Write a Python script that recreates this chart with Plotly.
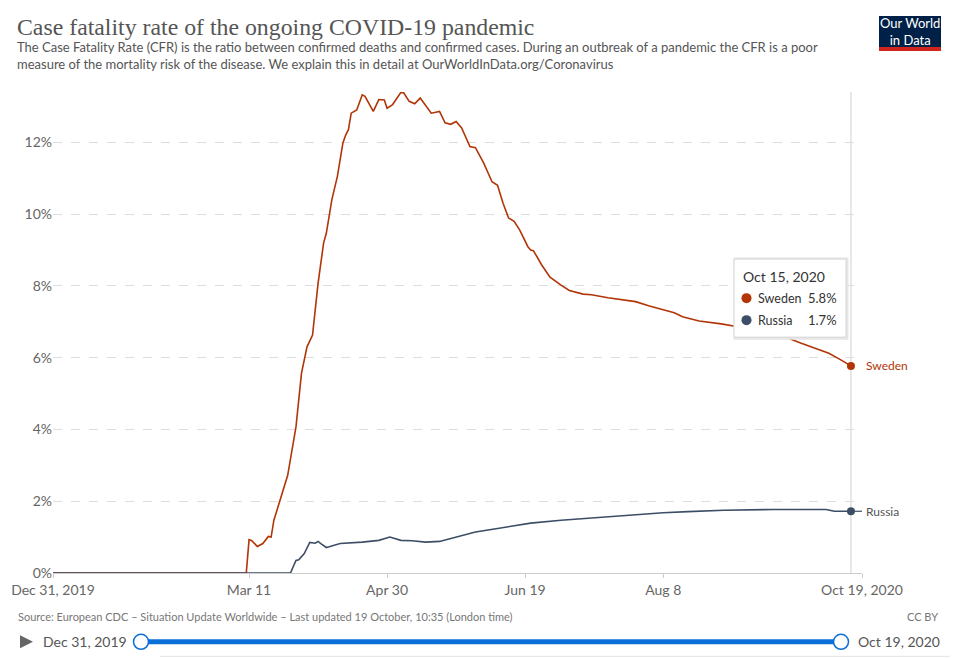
import plotly.graph_objects as go

# Case fatality rate (%)
sweden_dates = ["2019-12-31", "2020-03-10", "2020-03-11", "2020-03-12", "2020-03-14", "2020-03-16",
                "2020-03-18", "2020-03-19", "2020-03-20", "2020-03-23", "2020-03-25", "2020-03-28",
                "2020-03-30", "2020-04-01", "2020-04-03", "2020-04-05", "2020-04-07", "2020-04-08",
                "2020-04-10", "2020-04-12", "2020-04-14", "2020-04-15", "2020-04-16", "2020-04-17",
                "2020-04-19", "2020-04-21", "2020-04-22", "2020-04-25", "2020-04-27", "2020-04-29",
                "2020-04-30", "2020-05-02", "2020-05-05", "2020-05-06", "2020-05-08", "2020-05-10",
                "2020-05-12", "2020-05-16", "2020-05-19", "2020-05-21", "2020-05-23", "2020-05-25",
                "2020-05-27", "2020-05-30", "2020-06-01", "2020-06-04", "2020-06-07", "2020-06-09",
                "2020-06-11", "2020-06-13", "2020-06-15", "2020-06-17", "2020-06-20", "2020-06-21",
                "2020-06-22", "2020-06-25", "2020-06-28", "2020-07-02", "2020-07-05", "2020-07-10",
                "2020-07-13", "2020-07-19", "2020-07-23", "2020-07-29", "2020-08-03", "2020-08-08",
                "2020-08-12", "2020-08-15", "2020-08-21", "2020-08-29", "2020-09-04", "2020-09-12",
                "2020-09-21", "2020-09-27", "2020-10-02", "2020-10-07", "2020-10-11", "2020-10-15"]
sweden_cfr = [0, 0, 0.93, 0.90, 0.74, 0.82,
              1.02, 1.00, 1.47, 2.22, 2.72, 4.07,
              5.57, 6.30, 6.63, 8.07, 9.19, 9.47,
              10.40, 11.05, 11.98, 12.20, 12.35, 12.81,
              12.90, 13.32, 13.28, 12.86, 13.19, 13.18,
              12.95, 13.05, 13.39, 13.38, 13.14, 13.07,
              13.23, 12.81, 12.86, 12.54, 12.50, 12.58,
              12.40, 11.88, 11.85, 11.42, 10.90, 10.80,
              10.30, 9.89, 9.80, 9.56, 9.09, 9.00,
              8.98, 8.58, 8.24, 8.02, 7.87, 7.77,
              7.75, 7.67, 7.63, 7.56, 7.44, 7.33,
              7.25, 7.14, 7.02, 6.94, 6.86, 6.72,
              6.58, 6.40, 6.26, 6.12, 5.95, 5.77]

russia_dates = ["2019-12-31", "2020-03-26", "2020-03-28", "2020-03-29", "2020-03-31", "2020-04-02",
                "2020-04-04", "2020-04-05", "2020-04-06", "2020-04-08", "2020-04-09", "2020-04-13",
                "2020-04-21", "2020-04-27", "2020-05-01", "2020-05-05", "2020-05-09", "2020-05-14",
                "2020-05-19", "2020-05-23", "2020-05-28", "2020-06-01", "2020-06-09", "2020-06-16",
                "2020-06-21", "2020-07-02", "2020-07-17", "2020-07-28", "2020-08-08", "2020-08-17",
                "2020-08-30", "2020-09-17", "2020-10-06", "2020-10-09", "2020-10-15"]
russia_cfr = [0, 0, 0.35, 0.37, 0.54, 0.85,
              0.83, 0.88, 0.82, 0.71, 0.73, 0.82,
              0.86, 0.91, 1.00, 0.91, 0.90, 0.86,
              0.88, 0.96, 1.05, 1.14, 1.24, 1.33,
              1.39, 1.47, 1.56, 1.63, 1.68, 1.71,
              1.75, 1.77, 1.77, 1.72, 1.72]

tick_dates = ["2019-12-31", "2020-03-11", "2020-04-30", "2020-06-19", "2020-08-08", "2020-10-19"]
tick_labels = ["Dec 31, 2019", "Mar 11", "Apr 30", "Jun 19", "Aug 8", "Oct 19, 2020"]
y_ticks = [0, 2, 4, 6, 8, 10, 12]
y_labels = [f"{v}%" for v in y_ticks]

SWEDEN = "#b13507"
RUSSIA = "#3c4e66"
FONT = "Lato"

# the page puts the figure 8px in from the top-left corner of the window,
# so the figure is 8px smaller and all screen positions below are window pixels
OFF = 8
W, H = 958 - OFF, 658 - OFF
PLOT_L, PLOT_R, PLOT_T, PLOT_B = 53, 862, 92, 572.7


# window pixel -> paper coordinates, for the chrome around the plot
def px(x):
    return (x - PLOT_L) / (PLOT_R - PLOT_L)


def py(y):
    return (PLOT_B - y) / (PLOT_B - PLOT_T)


fig = go.Figure()
fig.add_trace(go.Scatter(x=sweden_dates, y=sweden_cfr, mode="lines", name="Sweden",
                         line=dict(color=SWEDEN, width=1.6), hoverinfo="skip"))
fig.add_trace(go.Scatter(x=russia_dates, y=russia_cfr, mode="lines", name="Russia",
                         line=dict(color=RUSSIA, width=1.6), hoverinfo="skip"))
fig.add_trace(go.Scatter(x=[sweden_dates[-1]], y=[sweden_cfr[-1]], mode="markers",
                         marker=dict(color=SWEDEN, size=8), hoverinfo="skip"))
fig.add_trace(go.Scatter(x=[russia_dates[-1]], y=[russia_cfr[-1]], mode="markers",
                         marker=dict(color=RUSSIA, size=8), hoverinfo="skip"))

shapes = []
# hover line at the last date
shapes.append(dict(type="line", xref="x", yref="paper", x0=sweden_dates[-1], x1=sweden_dates[-1],
                   y0=0, y1=1, line=dict(color="#d0d0d0", width=1), layer="below"))
# small connector from Russia's marker to its label
shapes.append(dict(type="line", xref="x", yref="y", x0=russia_dates[-1], x1=tick_dates[-1],
                   y0=russia_cfr[-1], y1=russia_cfr[-1], line=dict(color=RUSSIA, width=1.2)))
# outer frame (right and bottom edges are the ones inside the window)
shapes.append(dict(type="path", xref="paper", yref="paper",
                   path=f"M {px(955)} {py(9)} L {px(955)} {py(656)} L {px(160)} {py(656)}",
                   line=dict(color="#e4e4e4", width=1)))
# logo
shapes.append(dict(type="rect", xref="paper", yref="paper", x0=px(879), x1=px(941), y0=py(47), y1=py(16),
                   line=dict(width=0), fillcolor="#002147"))
shapes.append(dict(type="rect", xref="paper", yref="paper", x0=px(879), x1=px(941), y0=py(51), y1=py(47),
                   line=dict(width=0), fillcolor="#ce261e"))
# tooltip box
shapes.append(dict(type="rect", xref="paper", yref="paper", x0=px(735), x1=px(847), y0=py(338), y1=py(259),
                   line=dict(color="#e6e6e6", width=3), fillcolor="rgba(0,0,0,0)", layer="above"))
shapes.append(dict(type="rect", xref="paper", yref="paper", x0=px(734), x1=px(846), y0=py(337), y1=py(259),
                   line=dict(color="#d6d6d6", width=1), fillcolor="white", layer="above"))
# timeline
shapes.append(dict(type="path", xref="paper", yref="paper",
                   path=f"M {px(20)} {py(635)} L {px(33)} {py(641.5)} L {px(20)} {py(648)} Z",
                   line=dict(width=0), fillcolor="#666666"))
shapes.append(dict(type="rect", xref="paper", yref="paper", x0=px(141), x1=px(841), y0=py(644), y1=py(639),
                   line=dict(width=0), fillcolor="#0b6fd8"))
for cx in (141, 841):
    shapes.append(dict(type="circle", xref="paper", yref="paper", x0=px(cx - 7.5), x1=px(cx + 7.5),
                       y0=py(649), y1=py(634), line=dict(color="#0b6fd8", width=1.5), fillcolor="white"))

annotations = []


def note(text, x, y, size, color, xanchor="left", yanchor="middle", family=FONT, **kw):
    annotations.append(dict(text=text, x=px(x), y=py(y), xref="paper", yref="paper", showarrow=False,
                            xanchor=xanchor, yanchor=yanchor, font=dict(family=family, size=size, color=color),
                            **kw))


note("Case fatality rate of the ongoing COVID-19 pandemic", 15, 27, 23.8, "#555555",
     family="Liberation Serif, DejaVu Serif, serif")
note("The Case Fatality Rate (CFR) is the ratio between confirmed deaths and confirmed cases. "
     "During an outbreak of a pandemic the CFR is a poor<br>measure of the mortality risk of the disease. "
     "We explain this in detail at OurWorldInData.org/Coronavirus", 15, 56, 13, "#555555", align="left")
note("Our World<br>in Data", 910, 31.5, 13, "white", xanchor="center")

# end labels
annotations.append(dict(text="Sweden", x=tick_dates[-1], y=sweden_cfr[-1], xref="x", yref="y",
                        showarrow=False, xanchor="left", xshift=2,
                        font=dict(family=FONT, size=12, color=SWEDEN)))
annotations.append(dict(text="Russia", x=tick_dates[-1], y=russia_cfr[-1], xref="x", yref="y",
                        showarrow=False, xanchor="left", xshift=2,
                        font=dict(family=FONT, size=12, color="#555555")))

# tooltip
note("Oct 15, 2020", 741, 276, 14, "#333333")
for label, vals, color, row_y in (("Sweden", sweden_cfr, SWEDEN, 298), ("Russia", russia_cfr, RUSSIA, 320)):
    shapes.append(dict(type="circle", xref="paper", yref="paper", x0=px(741.5), x1=px(751.5),
                       y0=py(row_y + 5), y1=py(row_y - 5), line=dict(width=0), fillcolor=color,
                       layer="above"))
    note(label, 756, row_y, 12.5, "#333333")
    note(f"{vals[-1]:.1f}%", 839, row_y, 13, "#333333", xanchor="right")

# footer
note("Source: European CDC – Situation Update Worldwide – Last updated 19 October, 10:35 (London time)",
     16, 616, 11, "#777777")
note("CC BY", 940, 616, 11, "#777777", xanchor="right")
note("Dec 31, 2019", 41, 641.5, 14, "#555555")
note("Oct 19, 2020", 856, 641.5, 14, "#555555")

fig.update_layout(
    width=W, height=H,
    margin=dict(l=PLOT_L - OFF, r=W - (PLOT_R - OFF), t=PLOT_T - OFF, b=H - (PLOT_B - OFF)),
    paper_bgcolor="white", plot_bgcolor="white",
    showlegend=False,
    font=dict(family=FONT, color="#666666"),
    shapes=shapes,
    annotations=annotations,
)
fig.update_xaxes(
    type="date", range=[tick_dates[0], tick_dates[-1]],
    tickvals=tick_dates, ticktext=tick_labels,
    tickfont=dict(size=14, color="#666666"),
    showgrid=False, zeroline=False, automargin=False,
    showline=True, linecolor="#cccccc", linewidth=1,
    ticks="outside", ticklen=4, tickcolor="#cccccc",
)
fig.update_yaxes(
    range=[0, 13.4], tickvals=y_ticks, ticktext=y_labels,
    tickfont=dict(size=14, color="#666666"),
    showgrid=True, gridcolor="#dddddd", griddash="dash", gridwidth=1,
    zeroline=False, showline=False, ticks="", automargin=False,
)

fig.write_html("out.html")
